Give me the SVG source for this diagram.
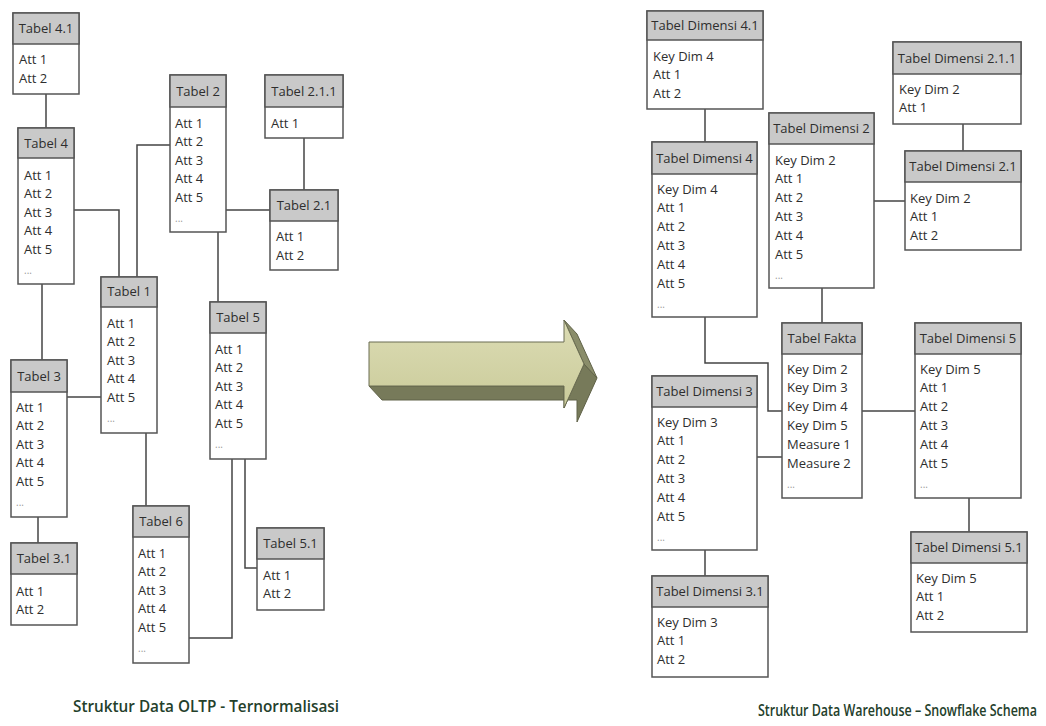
<svg xmlns="http://www.w3.org/2000/svg" width="1046" height="726" viewBox="0 0 1046 726">
  <defs>
    <style>
      .box { fill: #ffffff; stroke: #555555; stroke-width: 1.5; }
      .hdr { fill: #c9c9c9; stroke: #555555; stroke-width: 1.5; }
      .ht { font-family: "Open Sans", "Liberation Sans", sans-serif; font-size: 13px; fill: #2e2e2e; text-anchor: middle; }
      .bt { font-family: "Open Sans", "Liberation Sans", sans-serif; font-size: 13px; fill: #2e2e2e; }
      .dots { font-family: "Open Sans", "Liberation Sans", sans-serif; font-size: 10px; fill: #999999; }
      .conn { fill: none; stroke: #444444; stroke-width: 1.5; }
      .title { font-family: "Open Sans", "Liberation Sans", sans-serif; font-size: 16px; font-weight: 600; fill: #24402b; }
    </style>
    <linearGradient id="arrowFace" x1="0" y1="0" x2="0" y2="1">
      <stop offset="0" stop-color="#dcdcb4"/>
      <stop offset="1" stop-color="#cacb9a"/>
    </linearGradient>
  </defs>

  <rect width="1046" height="726" fill="#ffffff"/>

  <!-- connectors -->
  <g id="connectors">
    <!-- OLTP side -->
    <path class="conn" d="M46 94 V128"/>
    <path class="conn" d="M74 210 H119 V277"/>
    <path class="conn" d="M137 277 V145 H170"/>
    <path class="conn" d="M226 210 H270"/>
    <path class="conn" d="M304 138 V190"/>
    <path class="conn" d="M218 232 V302"/>
    <path class="conn" d="M42 284 V360"/>
    <path class="conn" d="M67 397 H101"/>
    <path class="conn" d="M38 517 V543"/>
    <path class="conn" d="M146 433 V506"/>
    <path class="conn" d="M232 459 V638 H189"/>
    <path class="conn" d="M245 459 V568 H257"/>
    <!-- snowflake side -->
    <path class="conn" d="M705 109 V142"/>
    <path class="conn" d="M963 124 V151"/>
    <path class="conn" d="M874 201 H905"/>
    <path class="conn" d="M822 288 V323"/>
    <path class="conn" d="M705 317 V363 H768 V411 H782"/>
    <path class="conn" d="M862 411 H915"/>
    <path class="conn" d="M757 457 H782"/>
    <path class="conn" d="M705 550 V576"/>
    <path class="conn" d="M969 498 V532"/>
  </g>

  <!-- ===== OLTP tables ===== -->
  <g id="tabel-4-1">
    <rect class="box" x="13" y="13" width="66" height="81"/>
    <rect class="hdr" x="13" y="13" width="66" height="31"/>
    <text class="ht" x="46" y="33">Tabel 4.1</text>
    <text class="bt" x="19" y="64">Att 1</text>
    <text class="bt" x="19" y="83">Att 2</text>
  </g>

  <g id="tabel-4">
    <rect class="box" x="18" y="128" width="56" height="156"/>
    <rect class="hdr" x="18" y="128" width="56" height="30"/>
    <text class="ht" x="46" y="148">Tabel 4</text>
    <text class="bt" x="24" y="179.5">Att 1</text>
    <text class="bt" x="24" y="198">Att 2</text>
    <text class="bt" x="24" y="216.5">Att 3</text>
    <text class="bt" x="24" y="235">Att 4</text>
    <text class="bt" x="24" y="253.5">Att 5</text>
    <text class="dots" x="24" y="274">...</text>
  </g>

  <g id="tabel-2">
    <rect class="box" x="170" y="75" width="56" height="157"/>
    <rect class="hdr" x="170" y="75" width="56" height="32"/>
    <text class="ht" x="198" y="96">Tabel 2</text>
    <text class="bt" x="175" y="127.5">Att 1</text>
    <text class="bt" x="175" y="146">Att 2</text>
    <text class="bt" x="175" y="164.5">Att 3</text>
    <text class="bt" x="175" y="183">Att 4</text>
    <text class="bt" x="175" y="201.5">Att 5</text>
    <text class="dots" x="175" y="222">...</text>
  </g>

  <g id="tabel-2-1-1">
    <rect class="box" x="265" y="75" width="78" height="63"/>
    <rect class="hdr" x="265" y="75" width="78" height="32"/>
    <text class="ht" x="304" y="96">Tabel 2.1.1</text>
    <text class="bt" x="271" y="127.5">Att 1</text>
  </g>

  <g id="tabel-2-1">
    <rect class="box" x="270" y="190" width="68" height="80"/>
    <rect class="hdr" x="270" y="190" width="68" height="31"/>
    <text class="ht" x="304" y="210">Tabel 2.1</text>
    <text class="bt" x="276" y="241">Att 1</text>
    <text class="bt" x="276" y="259.5">Att 2</text>
  </g>

  <g id="tabel-1">
    <rect class="box" x="101" y="277" width="56" height="156"/>
    <rect class="hdr" x="101" y="277" width="56" height="30"/>
    <text class="ht" x="129" y="296">Tabel 1</text>
    <text class="bt" x="107" y="327.5">Att 1</text>
    <text class="bt" x="107" y="346">Att 2</text>
    <text class="bt" x="107" y="364.5">Att 3</text>
    <text class="bt" x="107" y="383">Att 4</text>
    <text class="bt" x="107" y="401.5">Att 5</text>
    <text class="dots" x="107" y="422">...</text>
  </g>

  <g id="tabel-5">
    <rect class="box" x="210" y="302" width="56" height="157"/>
    <rect class="hdr" x="210" y="302" width="56" height="31"/>
    <text class="ht" x="238" y="322">Tabel 5</text>
    <text class="bt" x="215" y="353.5">Att 1</text>
    <text class="bt" x="215" y="372">Att 2</text>
    <text class="bt" x="215" y="390.5">Att 3</text>
    <text class="bt" x="215" y="409">Att 4</text>
    <text class="bt" x="215" y="427.5">Att 5</text>
    <text class="dots" x="215" y="448">...</text>
  </g>

  <g id="tabel-3">
    <rect class="box" x="11" y="360" width="56" height="157"/>
    <rect class="hdr" x="11" y="360" width="56" height="32"/>
    <text class="ht" x="39" y="381">Tabel 3</text>
    <text class="bt" x="16" y="411.5">Att 1</text>
    <text class="bt" x="16" y="430">Att 2</text>
    <text class="bt" x="16" y="448.5">Att 3</text>
    <text class="bt" x="16" y="467">Att 4</text>
    <text class="bt" x="16" y="485.5">Att 5</text>
    <text class="dots" x="16" y="506">...</text>
  </g>

  <g id="tabel-3-1">
    <rect class="box" x="11" y="543" width="66" height="82"/>
    <rect class="hdr" x="11" y="543" width="66" height="31"/>
    <text class="ht" x="44" y="563">Tabel 3.1</text>
    <text class="bt" x="16" y="595.5">Att 1</text>
    <text class="bt" x="16" y="614">Att 2</text>
  </g>

  <g id="tabel-6">
    <rect class="box" x="133" y="506" width="56" height="157"/>
    <rect class="hdr" x="133" y="506" width="56" height="31"/>
    <text class="ht" x="161" y="526">Tabel 6</text>
    <text class="bt" x="138" y="557.5">Att 1</text>
    <text class="bt" x="138" y="576">Att 2</text>
    <text class="bt" x="138" y="594.5">Att 3</text>
    <text class="bt" x="138" y="613">Att 4</text>
    <text class="bt" x="138" y="631.5">Att 5</text>
    <text class="dots" x="138" y="652">...</text>
  </g>

  <g id="tabel-5-1">
    <rect class="box" x="257" y="528" width="67" height="82"/>
    <rect class="hdr" x="257" y="528" width="67" height="31"/>
    <text class="ht" x="290.5" y="548">Tabel 5.1</text>
    <text class="bt" x="263" y="579.5">Att 1</text>
    <text class="bt" x="263" y="598">Att 2</text>
  </g>

  <!-- ===== transformation arrow (extruded block arrow) ===== -->
  <g id="arrow">
    <polygon points="369,386 382,400 577,400 577,422 597,378 584,364 564,408 564,386" fill="#777a5a" stroke="#606248" stroke-width="1"/>
    <polygon points="564,320 577,334 597,378 584,364" fill="#8a8d6a" stroke="#606248" stroke-width="1"/>
    <polygon points="369,342 564,342 564,320 584,364 564,408 564,386 369,386" fill="url(#arrowFace)" stroke="#6b6d52" stroke-width="1"/>
  </g>

  <!-- ===== Snowflake tables ===== -->
  <g id="dimensi-4-1">
    <rect class="box" x="647" y="11" width="116" height="98"/>
    <rect class="hdr" x="647" y="11" width="116" height="29"/>
    <text class="ht" x="705" y="30">Tabel Dimensi 4.1</text>
    <text class="bt" x="653" y="60.5">Key Dim 4</text>
    <text class="bt" x="653" y="79">Att 1</text>
    <text class="bt" x="653" y="97.5">Att 2</text>
  </g>

  <g id="dimensi-4">
    <rect class="box" x="652" y="142" width="105" height="175"/>
    <rect class="hdr" x="652" y="142" width="105" height="32"/>
    <text class="ht" x="704.5" y="163">Tabel Dimensi 4</text>
    <text class="bt" x="657" y="193.5">Key Dim 4</text>
    <text class="bt" x="657" y="212.3">Att 1</text>
    <text class="bt" x="657" y="231.1">Att 2</text>
    <text class="bt" x="657" y="249.9">Att 3</text>
    <text class="bt" x="657" y="268.7">Att 4</text>
    <text class="bt" x="657" y="287.5">Att 5</text>
    <text class="dots" x="657" y="308">...</text>
  </g>

  <g id="dimensi-2">
    <rect class="box" x="769" y="113" width="105" height="175"/>
    <rect class="hdr" x="769" y="113" width="105" height="31"/>
    <text class="ht" x="821.5" y="133">Tabel Dimensi 2</text>
    <text class="bt" x="775" y="164.5">Key Dim 2</text>
    <text class="bt" x="775" y="183.3">Att 1</text>
    <text class="bt" x="775" y="202.1">Att 2</text>
    <text class="bt" x="775" y="220.9">Att 3</text>
    <text class="bt" x="775" y="239.7">Att 4</text>
    <text class="bt" x="775" y="258.5">Att 5</text>
    <text class="dots" x="775" y="279">...</text>
  </g>

  <g id="dimensi-2-1-1">
    <rect class="box" x="893" y="42" width="128" height="82"/>
    <rect class="hdr" x="893" y="42" width="128" height="32"/>
    <text class="ht" x="957" y="63">Tabel Dimensi 2.1.1</text>
    <text class="bt" x="899" y="93.5">Key Dim 2</text>
    <text class="bt" x="899" y="112.3">Att 1</text>
  </g>

  <g id="dimensi-2-1">
    <rect class="box" x="905" y="151" width="116" height="99"/>
    <rect class="hdr" x="905" y="151" width="116" height="31"/>
    <text class="ht" x="963" y="171">Tabel Dimensi 2.1</text>
    <text class="bt" x="910" y="202.5">Key Dim 2</text>
    <text class="bt" x="910" y="221.3">Att 1</text>
    <text class="bt" x="910" y="240.1">Att 2</text>
  </g>

  <g id="tabel-fakta">
    <rect class="box" x="782" y="323" width="80" height="175"/>
    <rect class="hdr" x="782" y="323" width="80" height="31"/>
    <text class="ht" x="822" y="343">Tabel Fakta</text>
    <text class="bt" x="787" y="373.5">Key Dim 2</text>
    <text class="bt" x="787" y="392.3">Key Dim 3</text>
    <text class="bt" x="787" y="411.1">Key Dim 4</text>
    <text class="bt" x="787" y="429.9">Key Dim 5</text>
    <text class="bt" x="787" y="448.7">Measure 1</text>
    <text class="bt" x="787" y="467.5">Measure 2</text>
    <text class="dots" x="787" y="488">...</text>
  </g>

  <g id="dimensi-5">
    <rect class="box" x="915" y="323" width="106" height="175"/>
    <rect class="hdr" x="915" y="323" width="106" height="31"/>
    <text class="ht" x="968" y="343">Tabel Dimensi 5</text>
    <text class="bt" x="920" y="373.5">Key Dim 5</text>
    <text class="bt" x="920" y="392.3">Att 1</text>
    <text class="bt" x="920" y="411.1">Att 2</text>
    <text class="bt" x="920" y="429.9">Att 3</text>
    <text class="bt" x="920" y="448.7">Att 4</text>
    <text class="bt" x="920" y="467.5">Att 5</text>
    <text class="dots" x="920" y="488">...</text>
  </g>

  <g id="dimensi-3">
    <rect class="box" x="652" y="376" width="105" height="174"/>
    <rect class="hdr" x="652" y="376" width="105" height="31"/>
    <text class="ht" x="704.5" y="396">Tabel Dimensi 3</text>
    <text class="bt" x="657" y="426.5">Key Dim 3</text>
    <text class="bt" x="657" y="445.3">Att 1</text>
    <text class="bt" x="657" y="464.1">Att 2</text>
    <text class="bt" x="657" y="482.9">Att 3</text>
    <text class="bt" x="657" y="501.7">Att 4</text>
    <text class="bt" x="657" y="520.5">Att 5</text>
    <text class="dots" x="657" y="541">...</text>
  </g>

  <g id="dimensi-3-1">
    <rect class="box" x="652" y="576" width="116" height="101"/>
    <rect class="hdr" x="652" y="576" width="116" height="31"/>
    <text class="ht" x="710" y="596">Tabel Dimensi 3.1</text>
    <text class="bt" x="657" y="626.5">Key Dim 3</text>
    <text class="bt" x="657" y="645.3">Att 1</text>
    <text class="bt" x="657" y="664.1">Att 2</text>
  </g>

  <g id="dimensi-5-1">
    <rect class="box" x="911" y="532" width="116" height="100"/>
    <rect class="hdr" x="911" y="532" width="116" height="31"/>
    <text class="ht" x="969" y="552">Tabel Dimensi 5.1</text>
    <text class="bt" x="916" y="582.5">Key Dim 5</text>
    <text class="bt" x="916" y="601.3">Att 1</text>
    <text class="bt" x="916" y="620.1">Att 2</text>
  </g>

  <!-- captions (horizontally condensed to suit the caption width) -->
  <g id="captions">
    <text class="title" transform="translate(73 712) scale(0.78 1)" x="0" y="0" textLength="341" lengthAdjust="spacingAndGlyphs">Struktur Data OLTP - Ternormalisasi</text>
    <text class="title" transform="translate(758 716) scale(0.75 1)" x="0" y="0" textLength="372" lengthAdjust="spacingAndGlyphs">Struktur Data Warehouse – Snowflake Schema</text>
  </g>
</svg>
